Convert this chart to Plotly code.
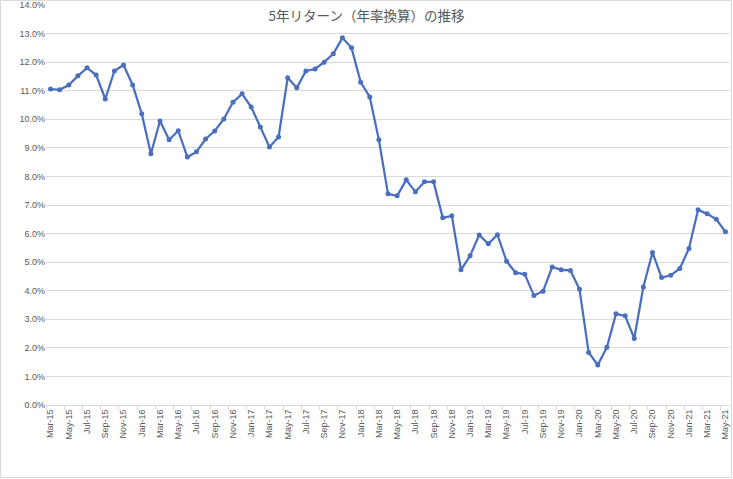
import plotly.graph_objects as go
import pandas as pd

months = [d.strftime("%b-%y") for d in pd.date_range("2015-03-01", "2021-05-01", freq="MS")]

returns_pct = [
    11.06, 11.03, 11.20, 11.52, 11.80, 11.55, 10.71, 11.69, 11.90, 11.20,
    10.19, 8.79, 9.94, 9.28, 9.60, 8.68, 8.86, 9.31, 9.59, 10.01,
    10.60, 10.89, 10.43, 9.73, 9.03, 9.38, 11.45, 11.10, 11.69, 11.76,
    12.00, 12.29, 12.85, 12.50, 11.30, 10.78, 9.28, 7.39, 7.32, 7.88,
    7.46, 7.81, 7.81, 6.55, 6.62, 4.73, 5.22, 5.95, 5.64, 5.96,
    5.03, 4.63, 4.58, 3.83, 3.98, 4.83, 4.73, 4.71, 4.05, 1.84,
    1.40, 2.02, 3.19, 3.12, 2.33, 4.13, 5.34, 4.46, 4.54, 4.78,
    5.48, 6.83, 6.69, 6.50, 6.06,
]

title_text = "5年リターン（年率換算）の推移"
y_ticks = [i * 1.0 for i in range(15)]

W, H = 733, 479
L, R, T, B = 46, 3, 5, 74
pw, ph = W - L - R, H - T - B

fig = go.Figure()
fig.add_trace(go.Scatter(
    x=months, y=returns_pct, mode="lines+markers",
    line=dict(color="#4A6FBF", width=2.25),
    marker=dict(color="#4A6FBF", size=5),
    hoverinfo="x+y",
))

fig.update_layout(
    width=W, height=H,
    margin=dict(l=L, r=R, t=T, b=B, autoexpand=False),
    paper_bgcolor="white", plot_bgcolor="white",
    showlegend=False,
    font=dict(family="Noto Sans CJK JP, Liberation Sans, sans-serif", color="#595959"),
    title=dict(text=title_text, x=0.5, xanchor="center", y=1 - 16 / H, yanchor="middle",
               automargin=False,
               font=dict(size=13.5, color="#595959", family="Noto Sans CJK JP")),
    xaxis=dict(
        type="category", tickangle=-90, dtick=2, tickson="boundaries",
        ticks="outside", ticklen=4, tickcolor="#D9D9D9",
        showgrid=False, showline=True, linecolor="#D9D9D9", linewidth=1,
        tickfont=dict(size=9, color="#595959", family="Liberation Sans"),
        range=[-0.5, len(months) - 0.5], automargin=False,
    ),
    yaxis=dict(
        range=[0, 14], tickvals=y_ticks, ticktext=[f"{v:.1f}%" for v in y_ticks],
        showgrid=True, gridcolor="#D9D9D9", gridwidth=1, zeroline=False,
        showline=False, ticks="", automargin=False,
        tickfont=dict(size=9, color="#595959", family="Liberation Sans"),
    ),
    shapes=[dict(
        type="rect", xref="paper", yref="paper",
        x0=(0.5 - L) / pw, x1=(W - 1.5 - L) / pw,
        y0=(H - B - (H - 1.5)) / ph, y1=(H - B - 0.5) / ph,
        line=dict(color="#D9D9D9", width=1), fillcolor="rgba(0,0,0,0)", layer="below",
    )],
)

fig.write_html("out.html")
